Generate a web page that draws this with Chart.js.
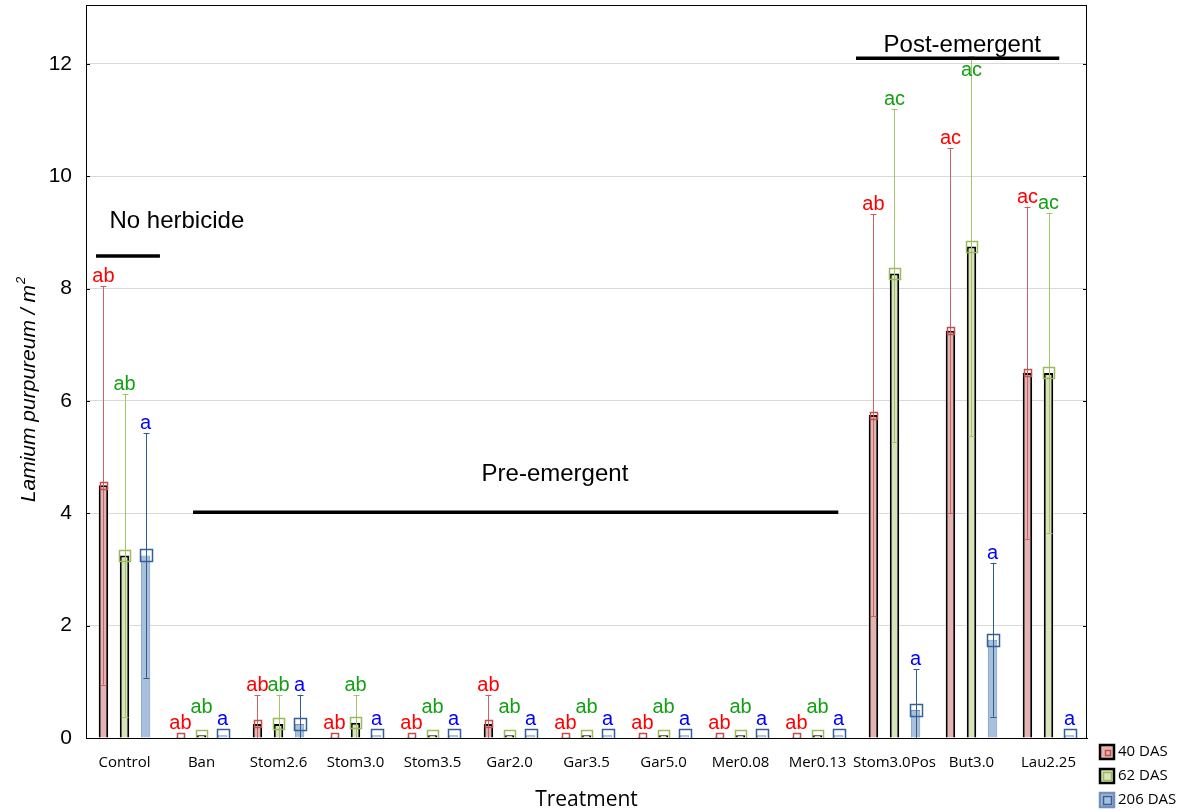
<!DOCTYPE html>
<html>
<head>
<meta charset="utf-8">
<script src="https://cdn.jsdelivr.net/npm/chart.js@4.4.1/dist/chart.umd.min.js"></script>
<style>
    html, body { margin: 0; padding: 0; background: #fff; }
    #wrap { width: 1189px; height: 811px; position: relative; }
</style>
</head>
<body>
<div id="wrap"><canvas id="myChart"></canvas></div>
<script>
    // treatments on the x axis
    var treatments = ['Control', 'Ban', 'Stom2.6', 'Stom3.0', 'Stom3.5', 'Gar2.0', 'Gar3.5',
        'Gar5.0', 'Mer0.08', 'Mer0.13', 'Stom3.0Pos', 'But3.0', 'Lau2.25'];
    var seriesNames = ['40 DAS', '62 DAS', '206 DAS'];
    var yTicks = [0, 2, 4, 6, 8, 10, 12];

    // means and interval bounds (null = no interval drawn)
    var mean40 = [4.5, 0.02, 0.25, 0.02, 0.02, 0.25, 0.02, 0.02, 0.02, 0.02, 5.75, 7.25, 6.5];
    var upper40 = [8.05, null, 0.77, null, null, 0.77, null, null, null, null, 9.33, 10.5, 9.46];
    var lower40 = [0.95, null, -0.27, null, null, -0.27, null, null, null, null, 2.17, 4.0, 3.55];

    var mean62 = [3.25, 0.05, 0.25, 0.27, 0.05, 0.05, 0.05, 0.05, 0.05, 0.05, 8.27, 8.75, 6.5];
    var upper62 = [6.12, null, 0.77, 0.77, null, null, null, null, null, null, 11.2, 12.14, 9.35];
    var lower62 = [0.38, null, -0.27, -0.23, null, null, null, null, null, null, 5.27, 5.37, 3.65];

    var mean206 = [3.25, 0.05, 0.25, 0.05, 0.05, 0.05, 0.05, 0.05, 0.05, 0.05, 0.5, 1.75, 0.05];
    var upper206 = [5.43, null, 0.77, null, null, null, null, null, null, null, 1.22, 3.12, null];
    var lower206 = [1.07, null, -0.27, null, null, null, null, null, null, null, -0.22, 0.38, null];

    // significance letters
    var letters40 = ['ab', 'ab', 'ab', 'ab', 'ab', 'ab', 'ab', 'ab', 'ab', 'ab', 'ab', 'ac', 'ac'];
    var letters62 = ['ab', 'ab', 'ab', 'ab', 'ab', 'ab', 'ab', 'ab', 'ab', 'ab', 'ac', 'ac', 'ac'];
    var letters206 = ['a', 'a', 'a', 'a', 'a', 'a', 'a', 'a', 'a', 'a', 'a', 'a', 'a'];

    // treatment groups: label, first/last treatment, line height, text height
    var groups = [
        { text: 'No herbicide', from: 0, to: 0, lineAt: 8.58, textAt: 9.2, x0: -0.37, x1: 0.46, tx: 0.68 },
        { text: 'Pre-emergent', from: 1, to: 9, lineAt: 4.02, textAt: 4.7, x0: -0.11, x1: 0.27, tx: 0.59 },
        { text: 'Post-emergent', from: 10, to: 12, lineAt: 12.1, textAt: 12.34, x0: -0.5, x1: 0.14, tx: -0.12 }
    ];

    var series = [
        { mean: mean40, hi: upper40, lo: lower40, letters: letters40,
          fill: '#e6b3b3', edge: '#000000', edgeW: 2, err: '#cc6262', mark: '#c0504d', markSize: 7, text: '#ff0000' },
        { mean: mean62, hi: upper62, lo: lower62, letters: letters62,
          fill: '#d7e3ba', edge: '#000000', edgeW: 2, err: '#a4c46a', mark: '#9bbb59', markSize: 11, text: '#13a013' },
        { mean: mean206, hi: upper206, lo: lower206, letters: letters206,
          fill: '#a9c0dc', edge: '#7490b8', edgeW: 1, err: '#2f5b8f', mark: '#34609a', markSize: 12, text: '#0000ff' }
    ];

    function drawMarker(ctx, x, y, size, color) {
        ctx.strokeStyle = color;
        ctx.lineWidth = 1.5;
        ctx.strokeRect(Math.round(x - size / 2) + 0.5, Math.round(y - size / 2) + 0.5, size, size);
    }

    function groupSpan(g, xScale, step) {
        return [xScale.getPixelForValue(g.from) + g.x0 * step, xScale.getPixelForValue(g.to) + g.x1 * step];
    }

    var decor = {
        id: 'decor',
        afterDatasetsDraw: function (chart) {
            var ctx = chart.ctx;
            var xScale = chart.scales.x;
            var yScale = chart.scales.y;
            var area = chart.chartArea;
            var step = (area.right - area.left) / treatments.length;

            ctx.save();
            ctx.beginPath();
            ctx.rect(area.left, area.top, area.right - area.left, area.bottom - area.top);
            ctx.clip();

            series.forEach(function (s, i) {
                var meta = chart.getDatasetMeta(i);
                meta.data.forEach(function (bar, j) {
                    var x = Math.round(bar.x) + 0.5;
                    var ym = yScale.getPixelForValue(s.mean[j]);
                    ctx.strokeStyle = s.err;
                    ctx.lineWidth = 1;
                    if (s.hi[j] !== null) {
                        var yh = yScale.getPixelForValue(s.hi[j]);
                        var yl = Math.min(yScale.getPixelForValue(s.lo[j]), area.bottom);
                        ctx.beginPath();
                        ctx.moveTo(x, yh);
                        ctx.lineTo(x, yl);
                        ctx.moveTo(x - 3, Math.round(yh) + 0.5);
                        ctx.lineTo(x + 3, Math.round(yh) + 0.5);
                        if (s.lo[j] > 0) {
                            ctx.moveTo(x - 3, Math.round(yl) + 0.5);
                            ctx.lineTo(x + 3, Math.round(yl) + 0.5);
                        }
                        ctx.stroke();
                    }
                    drawMarker(ctx, bar.x, ym, s.markSize, s.mark);
                });
            });
            ctx.restore();

            // letters above the intervals / markers, kept clear of the group lines
            ctx.save();
            ctx.font = '20px "Liberation Sans", Arial, sans-serif';
            ctx.textAlign = 'center';
            ctx.textBaseline = 'alphabetic';
            series.forEach(function (s, i) {
                var meta = chart.getDatasetMeta(i);
                meta.data.forEach(function (bar, j) {
                    var top;
                    if (s.hi[j] !== null) {
                        top = yScale.getPixelForValue(s.hi[j]);
                    } else {
                        top = yScale.getPixelForValue(s.mean[j]) - s.markSize / 2;
                    }
                    var base = top - 4;
                    if (i === 1 && s.hi[j] === null) {
                        base -= 13;
                    }
                    groups.forEach(function (g) {
                        var span = groupSpan(g, xScale, step);
                        var ly = yScale.getPixelForValue(g.lineAt);
                        if (bar.x > span[0] && bar.x < span[1] && base - 16 < ly + 3 && base > ly - 30) {
                            base = ly + 18;
                        }
                    });
                    ctx.fillStyle = s.text;
                    ctx.fillText(s.letters[j], bar.x, base);
                });
            });
            ctx.restore();
        },
        afterDraw: function (chart) {
            var ctx = chart.ctx;
            var xScale = chart.scales.x;
            var yScale = chart.scales.y;
            var area = chart.chartArea;

            ctx.save();
            // frame and inward ticks
            ctx.strokeStyle = '#000';
            ctx.lineWidth = 1;
            ctx.strokeRect(area.left + 0.5, area.top + 0.5, area.right - area.left - 1, area.bottom - area.top);
            ctx.beginPath();
            yTicks.forEach(function (t) {
                var py = Math.round(yScale.getPixelForValue(t)) + 0.5;
                ctx.moveTo(area.left, py);
                ctx.lineTo(area.left + 4, py);
                ctx.moveTo(area.right - 4, py);
                ctx.lineTo(area.right, py);
            });
            ctx.stroke();

            // group lines and captions
            var step = (area.right - area.left) / treatments.length;
            groups.forEach(function (g) {
                var span = groupSpan(g, xScale, step);
                var ly = yScale.getPixelForValue(g.lineAt);
                ctx.strokeStyle = '#000';
                ctx.lineWidth = 3.5;
                ctx.beginPath();
                ctx.moveTo(span[0], ly);
                ctx.lineTo(span[1], ly);
                ctx.stroke();
                ctx.fillStyle = '#000';
                ctx.font = '24px "Liberation Sans", Arial, sans-serif';
                ctx.textAlign = 'center';
                ctx.textBaseline = 'middle';
                var cx = (xScale.getPixelForValue(g.from) + xScale.getPixelForValue(g.to)) / 2 + g.tx * step;
                ctx.fillText(g.text, cx, yScale.getPixelForValue(g.textAt));
            });

            // axis titles
            ctx.fillStyle = '#000';
            ctx.font = '21px "Open Sans", sans-serif';
            ctx.textAlign = 'center';
            ctx.textBaseline = 'middle';
            ctx.fillText('Treatment', (area.left + area.right) / 2, 800);

            ctx.save();
            ctx.translate(29, 390);
            ctx.rotate(-Math.PI / 2);
            ctx.font = 'italic 21px "Liberation Sans", Arial, sans-serif';
            var main = 'Lamium purpureum / m';
            var w = ctx.measureText(main).width;
            ctx.font = 'italic 13px "Liberation Sans", Arial, sans-serif';
            var w2 = ctx.measureText('2').width;
            ctx.textAlign = 'left';
            ctx.font = 'italic 21px "Liberation Sans", Arial, sans-serif';
            ctx.fillText(main, -(w + w2) / 2, 0);
            ctx.font = 'italic 13px "Liberation Sans", Arial, sans-serif';
            ctx.fillText('2', -(w + w2) / 2 + w + 1, -8);
            ctx.restore();

            // legend
            var ly0 = 752;
            series.forEach(function (s, i) {
                var cy = ly0 + i * 24;
                var bx = 1100;
                ctx.fillStyle = s.fill;
                ctx.fillRect(bx, cy - 7, 14, 14);
                ctx.strokeStyle = s.edge;
                ctx.lineWidth = 2.5;
                ctx.strokeRect(bx, cy - 7, 14, 14);
                drawMarker(ctx, bx + 7, cy, i === 0 ? 5 : 8, s.mark);
                ctx.fillStyle = '#000';
                ctx.font = '15px "Open Sans", sans-serif';
                ctx.textAlign = 'left';
                ctx.textBaseline = 'middle';
                ctx.fillText(seriesNames[i], 1118, cy);
            });
            ctx.restore();
        }
    };

    Chart.defaults.font.family = '"Liberation Sans", Arial, sans-serif';
    Chart.defaults.color = '#000';

    new Chart('myChart', {
        type: 'bar',
        data: {
            labels: treatments,
            datasets: series.map(function (s, i) {
                return {
                    label: seriesNames[i],
                    data: s.mean,
                    backgroundColor: s.fill,
                    borderColor: s.edge,
                    borderWidth: s.edgeW,
                    categoryPercentage: 0.82,
                    barPercentage: 0.45
                };
            })
        },
        options: {
            responsive: true,
            maintainAspectRatio: false,
            animation: false,
            layout: { padding: { left: 0, top: 5, right: 102, bottom: 0 } },
            plugins: {
                legend: { display: false },
                tooltip: { enabled: false }
            },
            scales: {
                x: {
                    grid: { display: false, drawTicks: false },
                    border: { display: true, color: '#000' },
                    ticks: {
                        font: { family: '"Open Sans", sans-serif', size: 15 },
                        color: '#000',
                        padding: 16,
                        maxRotation: 0,
                        autoSkip: false
                    },
                    afterFit: function (scale) {
                        scale.height = 73;
                        scale.paddingLeft = 0;
                        scale.paddingRight = 0;
                    }
                },
                y: {
                    min: 0,
                    max: 13.05,
                    grid: { color: '#d9d9d9', drawTicks: false },
                    border: { display: true, color: '#000' },
                    ticks: {
                        stepSize: 2,
                        includeBounds: false,
                        font: { size: 21 },
                        color: '#000',
                        padding: 14
                    },
                    afterFit: function (scale) {
                        scale.width = 86;
                        scale.paddingTop = 0;
                        scale.paddingBottom = 0;
                    }
                }
            }
        },
        plugins: [decor]
    });
</script>
</body>
</html>
